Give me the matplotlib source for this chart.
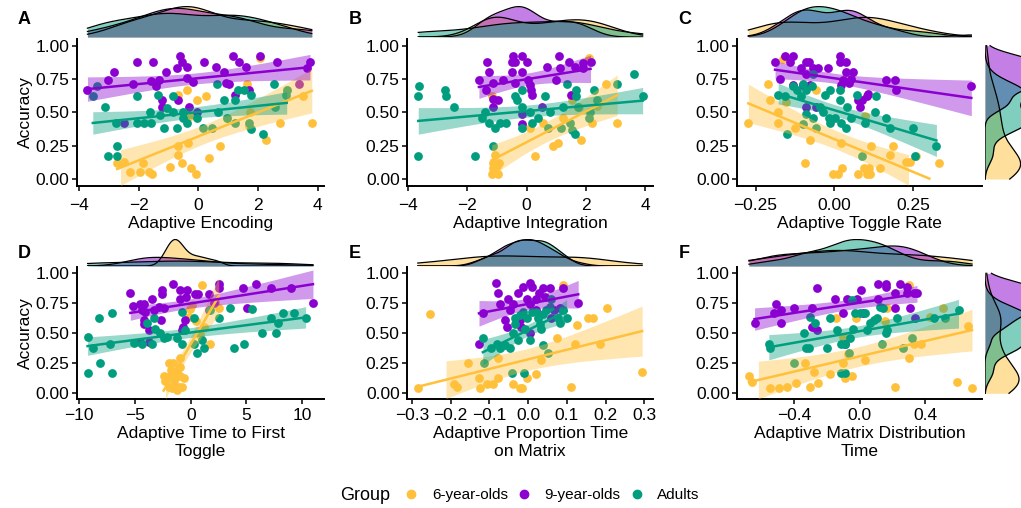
import numpy as np
import matplotlib.pyplot as plt
from matplotlib.lines import Line2D

plt.rcParams['font.family'] = ['Liberation Sans', 'DejaVu Sans']

groups = ['6-year-olds', '9-year-olds', 'Adults']
colors = ['#FFC13B', '#8B00D0', '#009E7F']

# ---- panel A: Adaptive Encoding ----
a_six = [(-2.72, 0.12), (-2.49, 0.125), (-2.31, 0.05), (-1.96, 0.05), (-1.87, 0.12), (-1.64, 0.05),
         (-1.56, 0.04), (-0.95, 0.09), (-0.67, 0.25), (-0.67, 0.18), (-0.56, 0.12), (-0.34, 0.27),
         (-0.25, 0.085), (-0.08, 0.04), (-0.67, 0.63), (-0.37, 0.67), (-0.28, 0.47), (-0.06, 0.59),
         (0.26, 0.625), (0.36, 0.16), (0.73, 0.25), (0.95, 0.46), (1.62, 0.71), (1.73, 0.505),
         (1.71, 0.40), (2.07, 0.91), (2.27, 0.29), (2.74, 0.42), (2.98, 0.67), (3.50, 0.625), (3.80, 0.42)]
a_nine = [(-3.72, 0.67), (-3.02, 0.74), (-2.83, 0.80), (-2.20, 0.71), (-2.07, 0.875), (-1.53, 0.88),
          (-1.60, 0.735), (-1.31, 0.74), (-1.42, 0.70), (-1.08, 0.80), (-1.23, 0.59), (-1.23, 0.54),
          (-0.73, 0.835), (-0.61, 0.92), (-0.56, 0.88), (-0.39, 0.84), (-0.37, 0.755), (-0.19, 0.725),
          (-0.67, 0.59), (-0.31, 0.54), (-0.06, 0.505), (0.19, 0.88), (0.58, 0.84), (0.86, 0.80),
          (0.93, 0.72), (1.01, 0.71), (1.15, 0.92), (1.36, 0.88), (1.60, 0.84), (1.71, 0.67),
          (1.21, 0.63), (2.07, 0.92), (2.63, 0.88), (3.37, 0.71), (3.63, 0.835), (3.74, 0.88), (-2.51, 0.42)]
a_adult = [(-3.54, 0.625), (-3.41, 0.70), (-3.13, 0.54), (-3.04, 0.17), (-2.72, 0.25), (-2.74, 0.17),
           (-2.77, 0.42), (-2.07, 0.625), (-2.07, 0.42), (-1.82, 0.42), (-1.60, 0.42), (-1.62, 0.505),
           (-1.34, 0.63), (-1.28, 0.48), (-1.15, 0.38), (-1.06, 0.53), (-0.84, 0.505), (-0.84, 0.625),
           (-0.73, 0.38), (-0.53, 0.505), (-0.53, 0.46), (-0.39, 0.42), (-0.06, 0.46), (0.17, 0.38),
           (0.47, 0.38), (0.61, 0.71), (0.67, 0.505), (0.86, 0.59), (0.95, 0.46), (1.23, 0.42),
           (1.21, 0.59), (1.34, 0.67), (1.53, 0.67), (1.75, 0.63), (1.71, 0.42), (1.75, 0.375),
           (2.18, 0.335), (2.55, 0.71), (2.58, 0.54), (2.96, 0.67), (2.93, 0.63)]

# ---- panel B: Adaptive Integration ----
b_six = [(-1.18, 0.625), (-1.07, 0.18), (-1.13, 0.12), (-0.92, 0.12), (-1.13, 0.08), (-1.16, 0.04),
         (-0.96, 0.04), (-1.00, 0.10), (-1.10, 0.06), (0.11, 0.38), (0.28, 0.17), (0.56, 0.42),
         (0.90, 0.25), (1.07, 0.27), (1.24, 0.46), (1.52, 0.59), (1.83, 0.29), (1.78, 0.54),
         (2.12, 0.91), (2.20, 0.42), (2.37, 0.55), (2.68, 0.71), (3.06, 0.42)]
b_nine = [(-1.61, 0.74), (-1.35, 0.875), (-1.26, 0.80), (-1.13, 0.72), (-1.37, 0.67), (-1.13, 0.60),
          (-0.96, 0.59), (-1.13, 0.54), (-0.79, 0.74), (-0.51, 0.80), (-0.47, 0.92), (-0.51, 0.875),
          (-0.39, 0.875), (-0.17, 0.92), (-0.17, 0.80), (0.00, 0.875), (-0.39, 0.72), (0.06, 0.74),
          (0.11, 0.705), (0.15, 0.67), (0.17, 0.63), (-0.17, 0.49), (-0.14, 0.41), (0.51, 0.54),
          (0.68, 0.84), (1.10, 0.92), (1.01, 0.74), (1.13, 0.835), (1.44, 0.88), (1.63, 0.84),
          (1.92, 0.87), (2.16, 0.875), (1.89, 0.835), (1.49, 0.63)]
b_adult = [(-3.63, 0.70), (-3.66, 0.625), (-3.66, 0.17), (-2.76, 0.67), (-2.73, 0.625), (-2.45, 0.54),
           (-1.75, 0.17), (-1.41, 0.505), (-1.52, 0.46), (-1.26, 0.42), (-1.07, 0.38), (-1.13, 0.25),
           (-0.90, 0.42), (-0.68, 0.42), (-0.39, 0.625), (-0.34, 0.59), (-0.17, 0.67), (-0.14, 0.54),
           (-0.14, 0.38), (0.11, 0.505), (0.17, 0.42), (0.39, 0.46), (0.62, 0.625), (0.73, 0.38),
           (0.79, 0.505), (1.15, 0.38), (1.35, 0.71), (1.24, 0.54), (1.46, 0.42), (1.55, 0.37),
           (1.63, 0.34), (1.67, 0.67), (1.67, 0.625), (1.75, 0.54), (2.12, 0.46), (2.29, 0.67),
           (2.37, 0.59), (2.14, 0.505), (3.06, 0.71), (3.63, 0.79), (3.92, 0.625)]

# ---- panel C: Adaptive Toggle Rate ----
c_six = [(-0.273, 0.42), (-0.211, 0.71), (-0.204, 0.59), (-0.178, 0.50), (-0.180, 0.42), (-0.153, 0.575),
         (-0.162, 0.90), (-0.125, 0.38), (-0.077, 0.29), (-0.058, 0.67), (-0.093, 0.12), (-0.003, 0.04),
         (0.011, 0.04), (0.026, 0.085), (0.023, 0.27), (0.076, 0.04), (0.094, 0.085), (0.103, 0.04),
         (0.111, 0.085), (0.115, 0.04), (0.145, 0.085), (0.118, 0.25), (0.177, 0.18), (0.187, 0.25),
         (0.229, 0.125), (0.240, 0.125), (0.261, 0.17), (0.333, 0.12), (0.097, 0.47)]
c_nine = [(-0.188, 0.875), (-0.156, 0.92), (-0.130, 0.92), (-0.141, 0.88), (-0.104, 0.835), (-0.088, 0.88),
          (-0.079, 0.88), (-0.067, 0.835), (-0.051, 0.835), (-0.019, 0.835), (0.020, 0.92), (0.018, 0.88),
          (0.036, 0.875), (0.039, 0.80), (0.060, 0.80), (-0.088, 0.79), (-0.172, 0.75), (-0.130, 0.705),
          (-0.100, 0.705), (-0.077, 0.705), (0.023, 0.705), (0.048, 0.72), (0.029, 0.74), (0.055, 0.75),
          (0.076, 0.59), (0.087, 0.59), (0.081, 0.54), (0.103, 0.62), (0.108, 0.635), (-0.088, 0.54),
          (-0.058, 0.54), (0.166, 0.74), (0.192, 0.74), (0.196, 0.67), (0.436, 0.70)]
c_adult = [(-0.178, 0.63), (-0.156, 0.625), (-0.149, 0.34), (-0.130, 0.70), (-0.119, 0.67), (-0.104, 0.62),
           (-0.098, 0.71), (-0.088, 0.67), (-0.067, 0.79), (-0.072, 0.70), (-0.098, 0.41), (-0.088, 0.49),
           (-0.067, 0.455), (-0.059, 0.38), (-0.045, 0.54), (-0.037, 0.505), (-0.030, 0.63), (-0.014, 0.67),
           (-0.016, 0.46), (-0.012, 0.42), (0.002, 0.46), (0.018, 0.67), (0.020, 0.59), (0.023, 0.42),
           (0.039, 0.38), (0.042, 0.54), (0.055, 0.46), (0.074, 0.63), (0.099, 0.42), (0.129, 0.505),
           (0.132, 0.625), (0.164, 0.46), (0.179, 0.38), (0.087, 0.17), (0.251, 0.38), (0.256, 0.17),
           (0.325, 0.25)]

# ---- panel D: Adaptive Time to First Toggle ----
d_six = [(-2.43, 0.14), (-2.28, 0.10), (-1.98, 0.055), (-1.53, 0.055), (-1.08, 0.055), (-0.78, 0.055),
         (-1.83, 0.14), (-1.38, 0.125), (-0.93, 0.14), (-0.63, 0.125), (-1.23, 0.18), (-1.98, 0.25),
         (-1.59, 0.25), (-0.93, 0.29), (-0.99, 0.22), (-1.74, 0.195), (-1.53, 0.10), (-0.03, 0.70),
         (0.12, 0.735), (0.81, 0.485), (1.02, 0.90), (1.23, 0.555), (1.77, 0.415), (2.51, 0.71),
         (-0.18, 0.64), (-1.20, 0.03), (-1.70, 0.04), (0.50, 0.60), (2.20, 0.76)]
d_nine = [(-5.42, 0.84), (-5.21, 0.73), (-4.52, 0.745), (-4.16, 0.745), (-4.37, 0.695), (-4.07, 0.68),
          (-3.47, 0.79), (-3.32, 0.695), (-2.66, 0.615), (-2.57, 0.865), (-2.57, 0.83), (-2.87, 0.72),
          (-2.43, 0.71), (-1.59, 0.915), (-0.93, 0.865), (-0.33, 0.865), (-0.39, 0.80), (-0.93, 0.79),
          (-0.72, 0.555), (-0.78, 0.53), (-0.54, 0.61), (-4.22, 0.615), (-4.16, 0.58), (-3.77, 0.53),
          (-3.77, 0.43), (-4.52, 0.43), (0.36, 0.83), (0.66, 0.83), (1.62, 0.83), (1.62, 0.695),
          (2.07, 0.755), (2.51, 0.915), (2.51, 0.88), (4.70, 0.875), (5.81, 0.915), (5.06, 0.715),
          (7.16, 0.875), (8.95, 0.875), (10.96, 0.755)]
d_adult = [(-9.25, 0.47), (-9.25, 0.167), (-8.77, 0.375), (-8.26, 0.625), (-8.11, 0.25), (-7.22, 0.415),
           (-7.07, 0.67), (-7.07, 0.167), (-5.12, 0.42), (-4.37, 0.415), (-3.92, 0.585), (-3.47, 0.415),
           (-3.32, 0.625), (-3.17, 0.54), (-2.72, 0.50), (-2.43, 0.46), (-2.13, 0.47), (-1.23, 0.46),
           (-0.78, 0.68), (-0.54, 0.53), (-0.78, 0.415), (0.27, 0.625), (0.27, 0.415), (0.57, 0.335),
           (1.02, 0.445), (1.17, 0.375), (1.77, 0.695), (2.51, 0.625), (3.56, 0.715), (3.86, 0.375),
           (4.76, 0.415), (5.51, 0.70), (6.41, 0.50), (7.22, 0.625), (7.69, 0.50), (7.84, 0.59),
           (8.29, 0.67), (9.25, 0.67), (10.30, 0.625)]

# ---- panel E: Adaptive Proportion Time on Matrix ----
e_six = [(-0.285, 0.04), (-0.253, 0.665), (-0.191, 0.078), (-0.184, 0.055), (-0.156, 0.25), (-0.126, 0.125),
         (-0.124, 0.04), (-0.107, 0.08), (-0.090, 0.08), (-0.077, 0.29), (-0.077, 0.125), (-0.040, 0.08),
         (-0.021, 0.04), (-0.015, 0.04), (-0.004, 0.125), (0.020, 0.16), (0.034, 0.28), (0.075, 0.46),
         (0.090, 0.90), (0.111, 0.055), (0.120, 0.415), (0.126, 0.57), (0.153, 0.625), (0.167, 0.625),
         (0.184, 0.415), (0.204, 0.71), (0.294, 0.18)]
e_nine = [(-0.127, 0.415), (-0.117, 0.67), (-0.083, 0.92), (-0.077, 0.84), (-0.073, 0.745), (-0.051, 0.79),
          (-0.047, 0.695), (-0.060, 0.61), (-0.056, 0.555), (-0.040, 0.745), (-0.026, 0.84), (-0.021, 0.61),
          (-0.013, 0.885), (-0.004, 0.79), (0.004, 0.92), (0.011, 0.885), (0.004, 0.745), (0.020, 0.79),
          (0.021, 0.695), (0.028, 0.835), (0.039, 0.875), (0.043, 0.805), (0.056, 0.875), (0.060, 0.625),
          (0.066, 0.695), (0.081, 0.715), (0.090, 0.875), (0.129, 0.755), (-0.019, 0.555), (0.004, 0.50)]
e_adult = [(-0.117, 0.46), (-0.114, 0.25), (-0.081, 0.415), (-0.073, 0.375), (-0.047, 0.375), (-0.043, 0.167),
           (-0.011, 0.167), (-0.039, 0.50), (-0.034, 0.58), (-0.034, 0.63), (-0.026, 0.445), (-0.020, 0.65),
           (-0.013, 0.68), (-0.009, 0.535), (-0.004, 0.625), (0.004, 0.445), (0.009, 0.68), (0.021, 0.68),
           (0.026, 0.625), (0.030, 0.58), (0.039, 0.665), (0.034, 0.54), (0.047, 0.695), (0.051, 0.335),
           (0.056, 0.72), (0.060, 0.79), (0.077, 0.625), (0.081, 0.585), (0.090, 0.695), (0.099, 0.63),
           (0.039, 0.40), (-0.060, 0.40), (-0.095, 0.38)]

# ---- panel F: Adaptive Matrix Distribution Time ----
f_six = [(-0.674, 0.14), (-0.654, 0.09), (-0.547, 0.04), (-0.492, 0.04), (-0.441, 0.055), (-0.385, 0.085),
         (-0.336, 0.25), (-0.279, 0.18), (-0.304, 0.05), (-0.255, 0.085), (-0.178, 0.16), (-0.142, 0.625),
         (-0.101, 0.465), (-0.087, 0.125), (-0.101, 0.25), (-0.073, 0.33), (-0.047, 0.14), (-0.020, 0.625),
         (0.034, 0.28), (0.166, 0.71), (0.156, 0.60), (0.217, 0.055), (0.298, 0.29), (0.298, 0.90),
         (0.328, 0.415), (0.373, 0.415), (0.429, 0.635), (0.506, 0.715), (0.591, 0.09), (0.656, 0.56),
         (0.683, 0.04)]
f_nine = [(-0.640, 0.585), (-0.522, 0.67), (-0.512, 0.745), (-0.482, 0.695), (-0.482, 0.585), (-0.401, 0.71),
          (-0.290, 0.71), (-0.263, 0.875), (-0.290, 0.555), (-0.263, 0.53), (-0.148, 0.79), (-0.101, 0.67),
          (-0.077, 0.79), (-0.016, 0.79), (0.010, 0.865), (0.020, 0.67), (0.109, 0.79), (0.109, 0.915),
          (0.162, 0.915), (0.162, 0.885), (0.217, 0.71), (0.217, 0.835), (0.247, 0.915), (0.288, 0.885),
          (0.288, 0.835), (0.308, 0.71), (0.328, 0.835), (0.348, 0.835), (0.338, 0.625), (-0.087, 0.415)]
f_adult = [(-0.553, 0.415), (-0.547, 0.375), (-0.397, 0.255), (-0.340, 0.50), (-0.330, 0.375), (-0.310, 0.375),
           (-0.304, 0.635), (-0.275, 0.59), (-0.198, 0.375), (-0.178, 0.625), (-0.138, 0.53), (-0.117, 0.415),
           (-0.087, 0.415), (-0.117, 0.167), (-0.087, 0.167), (-0.067, 0.335), (-0.057, 0.46), (-0.047, 0.78),
           (-0.041, 0.54), (-0.026, 0.67), (0.004, 0.67), (0.034, 0.67), (0.045, 0.53), (0.065, 0.585),
           (0.085, 0.61), (0.105, 0.625), (0.126, 0.72), (0.142, 0.71), (0.166, 0.53), (0.162, 0.50),
           (0.136, 0.415), (0.227, 0.625), (0.263, 0.375), (0.318, 0.46), (0.450, 0.625), (0.520, 0.625),
           (0.601, 0.695)]

letters = ['A', 'B', 'C', 'D', 'E', 'F']
xlabels = ['Adaptive Encoding', 'Adaptive Integration', 'Adaptive Toggle Rate',
           'Adaptive Time to First\nToggle', 'Adaptive Proportion Time\non Matrix',
           'Adaptive Matrix Distribution\nTime']
xticks = [[-4, -2, 0, 2, 4], [-4, -2, 0, 2, 4], [-0.25, 0, 0.25],
          [-10, -5, 0, 5, 10], [-0.3, -0.2, -0.1, 0, 0.1, 0.2, 0.3], [-0.4, 0, 0.4]]
xticklabels = [['\u22124', '\u22122', '0', '2', '4'], ['\u22124', '\u22122', '0', '2', '4'],
               ['\u22120.25', '0.00', '0.25'], ['\u221210', '\u22125', '0', '5', '10'],
               ['\u22120.3', '\u22120.2', '\u22120.1', '0.0', '0.1', '0.2', '0.3'], ['\u22120.4', '0.0', '0.4']]
xlims = [(-4.07, 4.21), (-4.03, 4.27), (-0.308, 0.469), (-10.2, 11.95), (-0.312, 0.322), (-0.745, 0.742)]
panel_data = [(a_six, a_nine, a_adult), (b_six, b_nine, b_adult), (c_six, c_nine, c_adult),
              (d_six, d_nine, d_adult), (e_six, e_nine, e_adult), (f_six, f_nine, f_adult)]
right_margin = [False, False, True, False, False, True]

W, H = 1021, 508
fig = plt.figure(figsize=(W / 100, H / 100), dpi=100)


def px_axes(left, top, right, bottom):
    return fig.add_axes([left / W, 1 - bottom / H, (right - left) / W, (bottom - top) / H])


def kde(v, grid):
    v = np.asarray(v)
    n = len(v)
    iqr = np.percentile(v, 75) - np.percentile(v, 25)
    bw = 0.9 * min(v.std(ddof=1), iqr / 1.34) * n ** -0.2
    z = (grid[:, None] - v[None, :]) / bw
    return np.exp(-0.5 * z ** 2).sum(1) / (n * bw * np.sqrt(2 * np.pi))


def smooth(ax, x, y, col, ylo):
    n = len(x)
    b, a = np.polyfit(x, y, 1)
    xs = np.linspace(x.min(), x.max(), 120)
    ys = a + b * xs
    resid = y - (a + b * x)
    s = np.sqrt((resid ** 2).sum() / (n - 2))
    t = 1.96 + 2.45 / (n - 2)
    se = s * np.sqrt(1 / n + (xs - x.mean()) ** 2 / ((x - x.mean()) ** 2).sum())
    lo, hi = ys - t * se, ys + t * se
    ax.fill_between(xs, lo, hi, where=lo >= ylo, color=col, alpha=0.4, lw=0, zorder=3)
    ys_line = np.where(ys >= 0, ys, np.nan)
    ax.plot(xs, ys_line, color=col, lw=1.8, zorder=4)


col_px = [(77, 324), (407.3, 653), (737.3, 981.7)]
row_px = [(39, 185.7, 6, 37), (267.3, 399.3, 239, 266)]
tick_pad = [5.5, 3]
ylim = (-0.05, 1.05)

for i in range(6):
    r, c = divmod(i, 3)
    left, right = col_px[c]
    top, bottom, mtop, mbot = row_px[r]
    ax = px_axes(left, top, right, bottom)
    pts = [np.array(g) for g in panel_data[i]]
    for g, col in zip(pts, colors):
        ax.scatter(g[:, 0], g[:, 1], s=40, color=col, lw=0, zorder=2)
    for g, col in zip(pts, colors):
        smooth(ax, g[:, 0], g[:, 1], col, ylim[0])
    ax.set_xlim(xlims[i])
    ax.set_ylim(ylim)
    ax.set_xticks(xticks[i])
    ax.set_xticklabels(xticklabels[i])
    ax.set_yticks([0, 0.25, 0.5, 0.75, 1.0])
    ax.set_yticklabels(['0.00', '0.25', '0.50', '0.75', '1.00'])
    for s in ['top', 'right']:
        ax.spines[s].set_visible(False)
    for s in ['left', 'bottom']:
        ax.spines[s].set_linewidth(1.4)
    ax.tick_params(labelsize=12.5, length=3.5, width=1.1, color='black', labelcolor='black')
    ax.tick_params(axis='x', pad=tick_pad[r])
    ax.tick_params(axis='y', pad=2)
    ax.set_xlabel(xlabels[i], fontsize=12.5, labelpad=2, linespacing=1.25)
    if c == 0:
        ax.set_ylabel('Accuracy', fontsize=12.5, labelpad=2)
    fig.text((left - 59) / W, 1 - (mtop + 14) / H, letters[i], fontsize=13, fontweight='bold',
             ha='left', va='center')

    # top marginal density
    allx = np.concatenate([g[:, 0] for g in pts])
    grid = np.linspace(allx.min(), allx.max(), 300)
    dens = [kde(g[:, 0], grid) for g in pts]
    mx = px_axes(left, mtop, right, mbot)
    for d, col in zip(dens, colors):
        mx.fill_between(grid, 0, d, color=col, alpha=0.5, lw=0)
        mx.plot(grid, d, color='black', lw=0.9)
    mx.set_xlim(xlims[i])
    mx.set_ylim(0, max(d.max() for d in dens) * 1.02)
    mx.axis('off')

    # right marginal density
    if right_margin[i]:
        ygrid = np.linspace(0, 1, 300)
        rdens = [kde(g[:, 1], ygrid) for g in pts]
        rx = px_axes(985, top, 1040, bottom)
        for d, col in zip(rdens, colors):
            rx.fill_betweenx(ygrid, 0, d, color=col, alpha=0.5, lw=0)
            rx.plot(d, ygrid, color='black', lw=0.9)
        rx.set_ylim(ylim)
        rx.set_xlim(0, max(d.max() for d in rdens) * 1.02)
        rx.axis('off')

# legend
fig.text(340 / W, 1 - 495 / H, 'Group', fontsize=13, ha='left', va='center')
handles = [Line2D([], [], marker='o', ls='', color=col, markersize=6) for col in colors]
fig.legend(handles, groups, loc='center left', bbox_to_anchor=(402 / W, 1 - 495 / H), ncol=3,
           frameon=False, fontsize=11, handlelength=1.2, handletextpad=0.75, columnspacing=0.45,
           borderaxespad=0, borderpad=0)

fig.savefig('out.png', dpi=100)
